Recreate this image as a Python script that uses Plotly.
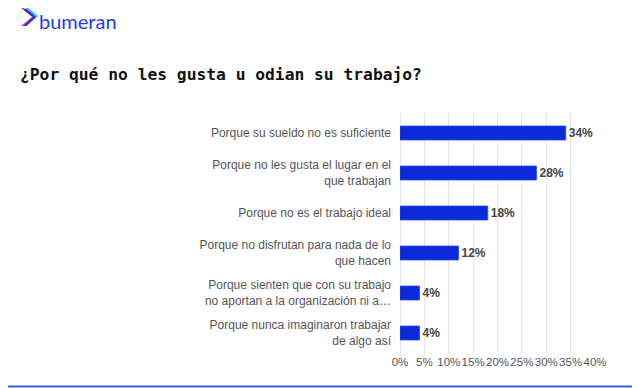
import plotly.graph_objects as go

categories = [
    "Porque su sueldo no es suficiente",
    "Porque no les gusta el lugar en el<br>que trabajan",
    "Porque no es el trabajo ideal",
    "Porque no disfrutan para nada de lo<br>que hacen",
    "Porque sienten que con su trabajo<br>no aportan a la organización ni a…",
    "Porque nunca imaginaron trabajar<br>de algo así",
]
values = [34, 28, 18, 12, 4, 4]
tick_vals = [0, 5, 10, 15, 20, 25, 30, 35, 40]
tick_text = ["0%", "5%", "10%", "15%", "20%", "25%", "30%", "35%", "40%"]
title_text = "¿Por qué no les gusta u odian su trabajo?"
brand = "bumeran"

# page has an 8px body margin; figure drawn at offset (8, 8)
OFF = 8
W, H = 640 - OFF, 388 - OFF
ML = 400 - OFF
MT = 113 - OFF
MB = H - (353 - OFF)
MR = W - (595 - OFF)
PH = H - MT - MB
PW = W - ML - MR

def px(x):
    return (x - OFF - ML) / PW

def py(y):
    return (H - MB - (y - OFF)) / PH

fig = go.Figure(
    go.Bar(
        x=values,
        y=categories,
        orientation="h",
        marker=dict(color="#0a29d9", line=dict(color="#2f4cf0", width=0.8)),
        text=[f"{v}%" for v in values],
        textposition="outside",
        textfont=dict(family="Liberation Sans, Arial, sans-serif", size=12, color="#444444", weight="bold"),
        cliponaxis=False,
        width=0.35,
    )
)

fig.update_layout(
    width=W,
    height=H,
    margin=dict(l=ML, r=MR, t=MT, b=MB, autoexpand=False),
    paper_bgcolor="white",
    plot_bgcolor="white",
    showlegend=False,
    title=dict(
        text=title_text,
        font=dict(family="DejaVu Sans Mono, monospace", size=16.3, color="#111111", weight="bold"),
        x=(20 - OFF) / W,
        xanchor="left",
        xref="container",
        y=1 - (74 - OFF) / H,
        yanchor="middle",
        yref="container",
    ),
    font=dict(family="Liberation Sans, Arial, sans-serif", size=12, color="#555555"),
)

fig.update_xaxes(
    range=[0, 40],
    tickvals=tick_vals,
    ticktext=tick_text,
    tickangle=0,
    automargin=False,
    showgrid=True,
    gridcolor="#e4e4e4",
    gridwidth=1,
    zeroline=True,
    zerolinecolor="#e4e4e4",
    zerolinewidth=1,
    tickfont=dict(size=11.5, color="#555555"),
    showline=False,
    fixedrange=True,
)
fig.update_yaxes(
    autorange="reversed",
    automargin=False,
    tickfont=dict(size=12, color="#555555"),
    ticklabelstandoff=8,
    showgrid=False,
    fixedrange=True,
)

# logo chevrons
fig.add_shape(type="path", xref="paper", yref="paper",
              path=f"M {px(21)} {py(8)} L {px(32)} {py(17)} L {px(21)} {py(26)} L {px(24)} {py(26)} L {px(35)} {py(17)} L {px(24)} {py(8)} Z",
              fillcolor="#ff2d6f", line=dict(width=0))
fig.add_shape(type="path", xref="paper", yref="paper",
              path=f"M {px(24)} {py(7)} L {px(35)} {py(16)} L {px(24)} {py(25)} L {px(27)} {py(25)} L {px(38)} {py(16)} L {px(27)} {py(7)} Z",
              fillcolor="#18c7e6", line=dict(width=0))
fig.add_shape(type="path", xref="paper", yref="paper",
              path=f"M {px(23)} {py(9)} L {px(33)} {py(17)} L {px(23)} {py(26)} L {px(26.5)} {py(26)} L {px(36)} {py(17)} L {px(26.5)} {py(9)} Z",
              fillcolor="#1b2fe8", line=dict(width=0))
fig.add_annotation(
    text=brand, xref="paper", yref="paper", x=px(37), y=py(21),
    xanchor="left", yanchor="middle", showarrow=False,
    font=dict(family="Lato, Inter, sans-serif", size=20, color="#1d3cf0"),
)

# bottom line
fig.add_shape(type="line", xref="paper", yref="paper",
              x0=px(0), x1=px(640), y0=py(386.5), y1=py(386.5),
              line=dict(color="#3a5cf0", width=2))

fig.write_html("out.html")
